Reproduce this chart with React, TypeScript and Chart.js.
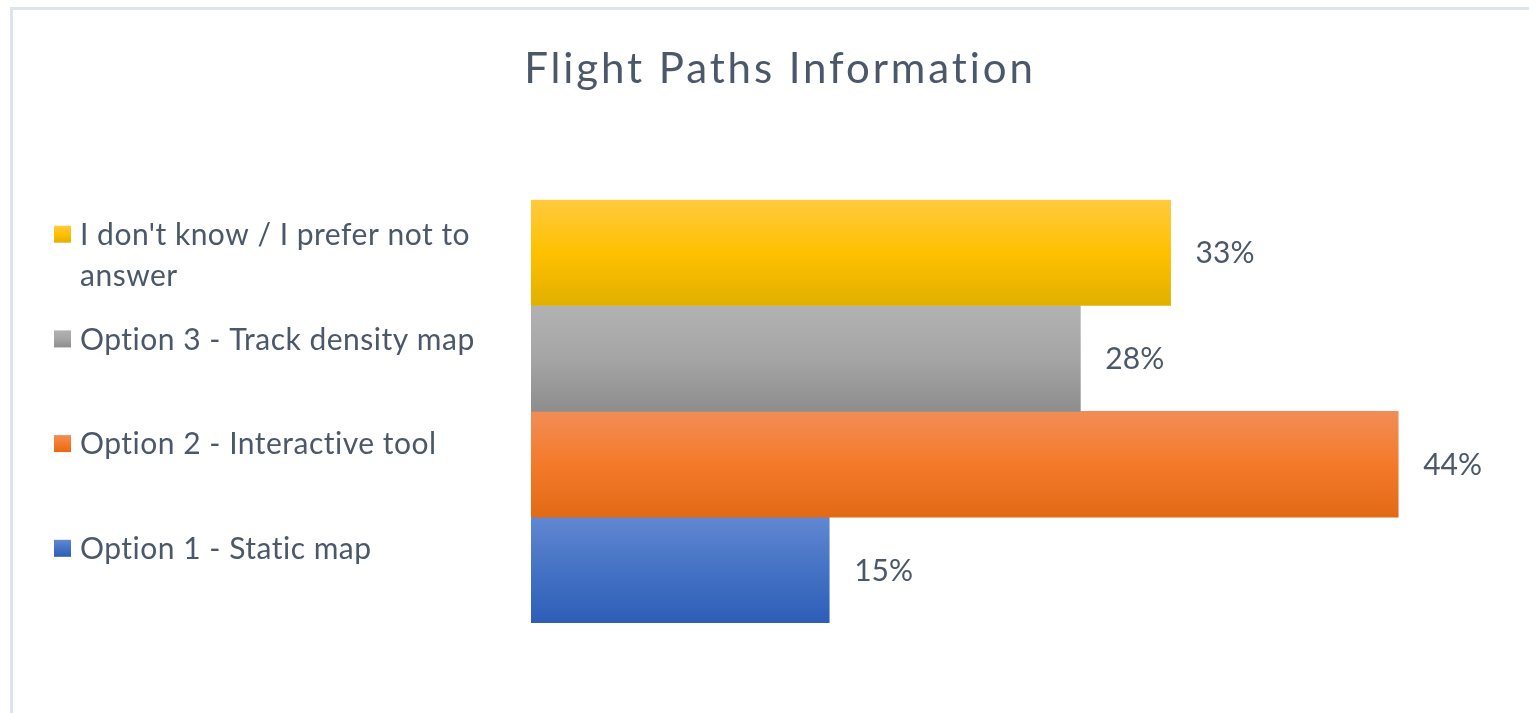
import React, { useEffect, useRef } from 'react';
import { Chart, registerables } from 'chart.js';

Chart.register(...registerables);

// ---- data ----
const categories = ['Flight Paths'];
const seriesLabels = [
  "I don't know / I prefer not to answer",
  'Option 3 - Track density map',
  'Option 2 - Interactive tool',
  'Option 1 - Static map',
];
const seriesValues = [32.6, 28.0, 44.2, 15.2];
const valueLabels = ['33%', '28%', '44%', '15%'];
const chartTitle = 'Flight Paths Information';

// ---- styles ----
const gradientStops = [
  ['#ffca3f', '#ffc000', '#e1b000'],
  ['#b2b2b2', '#a5a5a5', '#8d8d8d'],
  ['#f28d57', '#f47a2a', '#e26a15'],
  ['#6287d2', '#4472c4', '#2d5eb8'],
];
const TEXT_COLOR = '#4b586a';
const FONT_FAMILY = 'Lato, "Open Sans", sans-serif';
const LABEL_SIZE = 30;
const CAP_RATIO = 0.7165;

function barGradient(ctx: any, i: number) {
  const chart = ctx.chart;
  const area = chart.chartArea;
  const stops = gradientStops[i];
  if (!area) return stops[1];
  const n = chart.data.datasets.length;
  const h = area.height / n;
  const top = area.top + i * h;
  const g = chart.ctx.createLinearGradient(0, top, 0, top + h);
  g.addColorStop(0, stops[0]);
  g.addColorStop(0.5, stops[1]);
  g.addColorStop(1, stops[2]);
  return g;
}

// Title (z = 0) is drawn before the datasets: give it wider letter spacing.
const titleSpacingPlugin = {
  id: 'titleSpacing',
  beforeDraw(chart: any) {
    chart.ctx.letterSpacing = '2.9px';
  },
  beforeDatasetsDraw(chart: any) {
    chart.ctx.letterSpacing = '0px';
  },
};

const valueLabelPlugin = {
  id: 'valueLabels',
  afterDatasetsDraw(chart: any) {
    const c = chart.ctx;
    c.save();
    c.letterSpacing = '0px';
    c.font = `${LABEL_SIZE}px ${FONT_FAMILY}`;
    c.fillStyle = TEXT_COLOR;
    c.textAlign = 'left';
    c.textBaseline = 'alphabetic';
    chart.data.datasets.forEach((ds: any, i: number) => {
      const meta = chart.getDatasetMeta(i);
      meta.data.forEach((el: any) => {
        c.fillText(valueLabels[i], el.x + 25, el.y + (LABEL_SIZE * CAP_RATIO) / 2);
      });
    });
    c.restore();
  },
};

const sideLegendPlugin = {
  id: 'sideLegend',
  afterDraw(chart: any) {
    const c = chart.ctx;
    const area = chart.chartArea;
    const startY = area.top + 34.5;
    const step = 104.7;
    const swatchX = 54;
    const swatch = 17;
    const textX = 80;
    const maxWidth = 440;
    const lineH = 41;
    c.save();
    c.letterSpacing = '0.5px';
    c.font = `${LABEL_SIZE}px ${FONT_FAMILY}`;
    c.textAlign = 'left';
    c.textBaseline = 'alphabetic';
    chart.data.datasets.forEach((ds: any, i: number) => {
      const cy = startY + i * step;
      const stops = gradientStops[i];
      const g = c.createLinearGradient(0, cy - swatch / 2, 0, cy + swatch / 2);
      g.addColorStop(0, stops[0]);
      g.addColorStop(0.5, stops[1]);
      g.addColorStop(1, stops[2]);
      c.fillStyle = g;
      c.fillRect(swatchX, cy - swatch / 2, swatch, swatch);
      const words = String(ds.label).split(' ');
      const lines: string[] = [];
      let cur = '';
      words.forEach((w) => {
        const t = cur ? cur + ' ' + w : w;
        if (c.measureText(t).width > maxWidth && cur) {
          lines.push(cur);
          cur = w;
        } else cur = t;
      });
      if (cur) lines.push(cur);
      c.fillStyle = TEXT_COLOR;
      lines.forEach((ln, k) => {
        c.fillText(ln, textX, cy + (LABEL_SIZE * CAP_RATIO) / 2 + k * lineH);
      });
    });
    c.restore();
    c.letterSpacing = '0px';
  },
};

export default function App() {
  const ref = useRef<HTMLCanvasElement | null>(null);
  useEffect(() => {
    if (!ref.current) return;
    const chart = new Chart(ref.current, {
      type: 'bar',
      data: {
        labels: categories,
        datasets: seriesLabels.map((label, i) => ({
          label,
          data: [seriesValues[i]],
          backgroundColor: (ctx: any) => barGradient(ctx, i),
          borderWidth: 0,
          categoryPercentage: 1,
          barPercentage: 1,
        })),
      },
      options: {
        indexAxis: 'y',
        animation: false,
        responsive: false,
        layout: { padding: { left: 48, right: 17, top: 0, bottom: 90 } },
        scales: {
          x: { display: false, min: 0, max: 50 },
          y: {
            display: true,
            grid: { display: false },
            border: { display: false },
            ticks: { display: false },
            afterFit: (scale: any) => {
              scale.width = 483;
            },
          },
        },
        plugins: {
          legend: { display: false },
          tooltip: { enabled: false },
          title: {
            display: true,
            text: chartTitle,
            color: TEXT_COLOR,
            font: { family: FONT_FAMILY, size: 42, weight: 'normal', lineHeight: 1.2 },
            padding: { top: 44, bottom: 105.3 },
          },
        },
      },
      plugins: [titleSpacingPlugin, valueLabelPlugin, sideLegendPlugin],
    } as any);
    return () => chart.destroy();
  }, []);

  return (
    <div
      style={{
        position: 'fixed',
        left: 0,
        top: 0,
        width: 1529,
        height: 713,
        overflow: 'hidden',
        background: '#ffffff',
      }}
    >
      <div
        style={{
          position: 'absolute',
          left: 10,
          top: 7,
          width: 1600,
          height: 800,
          borderTop: '3px solid #dfe4ec',
          borderLeft: '3px solid #dfe4ec',
          pointerEvents: 'none',
        }}
      />
      <canvas
        ref={ref}
        width={1529}
        height={713}
        style={{ position: 'absolute', left: 0, top: 0, width: 1529, height: 713, display: 'block' }}
      />
    </div>
  );
}
